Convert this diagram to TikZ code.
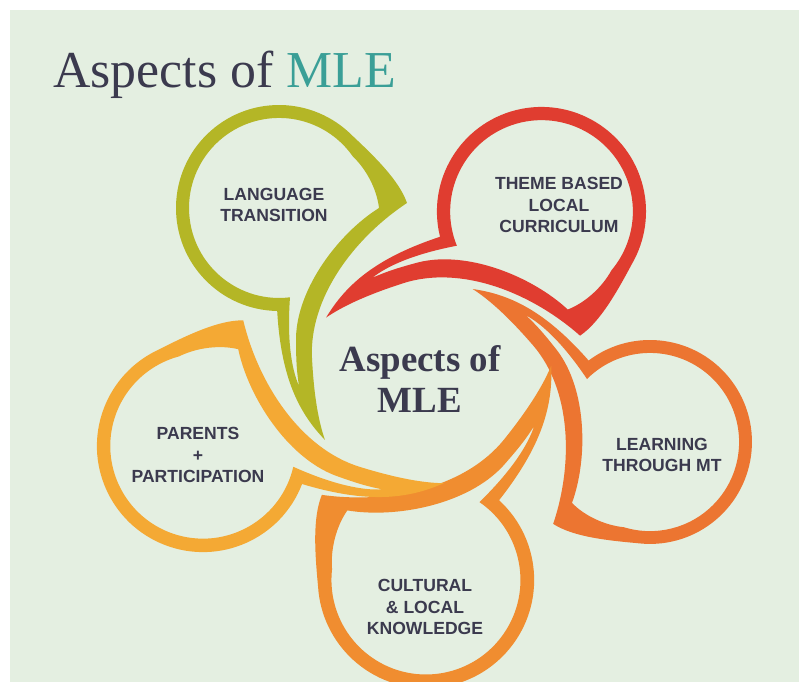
\documentclass[tikz,border=0pt]{standalone}
\usepackage{fontspec}
\setmainfont{Liberation Serif}
\setsansfont{Liberation Sans}

\definecolor{bggreen}{HTML}{E4EFE1}
\definecolor{olivec}{HTML}{B4B626}
\definecolor{redc}{HTML}{E03D30}
\definecolor{orangec}{HTML}{EC7531}
\definecolor{amberc}{HTML}{F08D30}
\definecolor{yellowc}{HTML}{F4A934}
\definecolor{inkc}{HTML}{3B3A4E}
\definecolor{tealc}{HTML}{3A9F97}

\tikzset{
  mlebubble/.pic={
    \fill[#1, even odd rule]
      (-1.8,-103) arc[start angle=269, end angle=45, radius=103]
      .. controls (95,52) and (120,28) .. (128,5)
      .. controls (75,-30) and (30,-90) .. (33,-150)
      .. controls (35,-190) and (40,-215) .. (46,-232)
      .. controls (20,-205) and (2,-170) .. (-1.8,-103) -- cycle
      (11,-89.3) arc[start angle=277, end angle=35, radius=90]
      .. controls (88,38) and (98,18) .. (100,0)
      .. controls (60,-25) and (18,-80) .. (17,-130)
      .. controls (17,-155) and (18,-165) .. (20,-178)
      .. controls (12,-160) and (8,-130) .. (11,-89.3) -- cycle;
  },
  aspect/.style={font=\sffamily\bfseries\fontsize{10}{12}\selectfont, text=inkc, align=center}
}

\begin{document}
\begin{tikzpicture}[x=0.02cm, y=0.02cm]
    \useasboundingbox (0,0) rectangle (799,682);
    \fill[white] (0,0) rectangle (799,682);
    \fill[bggreen] (10,0) rectangle (799,672);

    \node[anchor=base west, inner sep=0, text=inkc, font=\fontsize{29.5}{32}\selectfont] (title) at (53,594) {Aspects of \textcolor{tealc}{MLE}};

    % 五个气泡
    \pic[rotate=0] at (279,474) {mlebubble=olivec};
    \pic[rotate=-75, scale=1.015] at (541.5,470.5) {mlebubble=redc};
    \pic[rotate=-142, scale=0.99] at (650,240) {mlebubble=orangec};
    \pic[rotate=138.5, scale=1.05] at (426,102) {mlebubble=amberc};
    \pic[rotate=70, scale=1.03] at (203,236) {mlebubble=yellowc};

    \node[align=center, text=inkc, font=\bfseries\fontsize{21}{23}\selectfont] (centre) at (420,303) {Aspects of\\MLE};

    \node[aspect] (language) at (274,477) {LANGUAGE\\TRANSITION};
    \node[aspect] (theme) at (559,477) {THEME BASED\\LOCAL\\CURRICULUM};
    \node[aspect] (learning) at (662,227) {LEARNING\\THROUGH MT};
    \node[aspect] (parents) at (198,227) {PARENTS\\+\\PARTICIPATION};
    \node[aspect] (cultural) at (425,75) {CULTURAL\\\& LOCAL\\KNOWLEDGE};

\end{tikzpicture}
\end{document}
